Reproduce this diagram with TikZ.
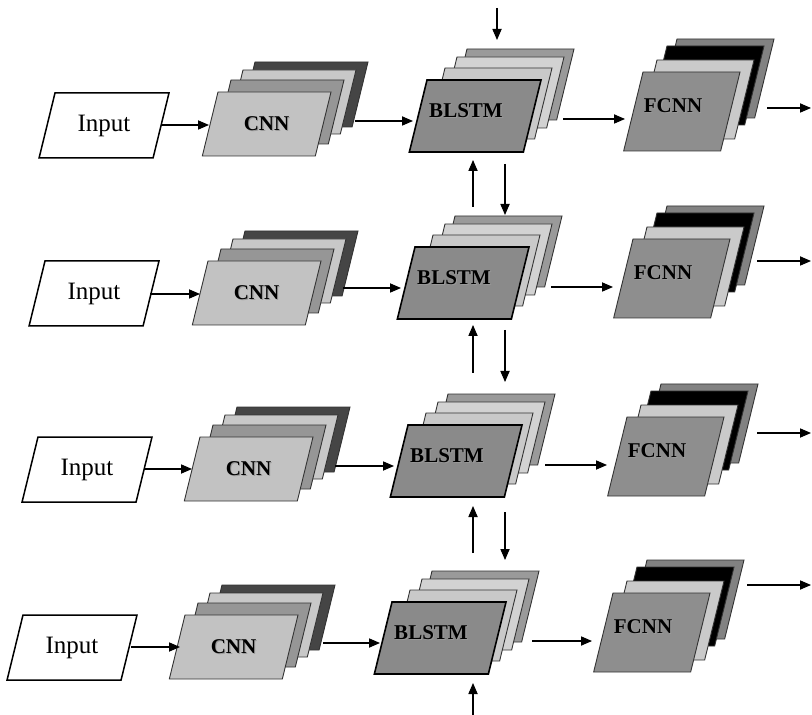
\documentclass[tikz,border=0pt]{standalone}
\usepackage{fontspec}
\setmainfont{Liberation Serif}
\usetikzlibrary{arrows.meta}

% layer colours
\definecolor{cnnA}{HTML}{C2C2C2}
\definecolor{cnnB}{HTML}{969696}
\definecolor{cnnC}{HTML}{C8C8C8}
\definecolor{cnnD}{HTML}{454545}
\definecolor{blA}{HTML}{8A8A8A}
\definecolor{blB}{HTML}{C9C9C9}
\definecolor{blC}{HTML}{D2D2D2}
\definecolor{blD}{HTML}{9A9A9A}
\definecolor{fcA}{HTML}{8E8E8E}
\definecolor{fcB}{HTML}{CACACA}
\definecolor{fcC}{HTML}{000000}
\definecolor{fcD}{HTML}{828282}

\tikzset{
  arr/.style={draw=black, line width=0.55pt, -{Triangle[length=5.5pt,width=4.6pt]}},
  lyr/.style={draw=black!80, line width=0.45pt},
  lyrfront/.style={draw=black, line width=0.8pt},
  inbox/.style={draw=black, fill=white, line width=0.75pt},
  intxt/.style={font=\fontsize{12.5}{15}\selectfont, inner sep=0pt},
  lbl/.style={font=\fontsize{10.5}{12}\selectfont\bfseries, inner sep=0pt},
}

% slanted sheet: top-left x, top-left y, width, height, style
\newcommand\pgram[5]{%
  \path[#5] ({#1},{#2}) -- ++(#3,0) -- ++({-0.245*(#4)},#4) -- ++({-(#3)},0) -- cycle;}

% bold label with a soft drop shadow
\newcommand\embossed[1]{\leavevmode\rlap{\kern0.55pt\raisebox{-0.55pt}{\color{black!40}#1}}#1}

% input sheet: name, x, y
\newcommand\inputbox[3]{%
  \pgram{#2}{#3}{114}{65}{inbox}
  \node[intxt] (#1) at ({#2+49},{#3+32.5}) {Input};}

% CNN stack: name, x, y of the front sheet
\newcommand\cnnstack[3]{%
  \pgram{#2+37}{#3-30}{113}{65}{lyr,fill=cnnD}
  \pgram{#2+25}{#3-22}{113}{64}{lyr,fill=cnnC}
  \pgram{#2+13}{#3-12}{113}{64}{lyr,fill=cnnB}
  \pgram{#2}{#3}{113}{64}{lyr,fill=cnnA}
  \node[lbl] (#1) at ({#2+48.5},{#3+32}) {\embossed{CNN}};}

% BLSTM stack
\newcommand\blstmstack[3]{%
  \pgram{#2+40}{#3-31}{107}{71}{lyr,fill=blD}
  \pgram{#2+30}{#3-23}{107}{71}{lyr,fill=blC}
  \pgram{#2+18}{#3-12}{107}{71}{lyr,fill=blB}
  \pgram{#2}{#3}{114}{72}{lyrfront,fill=blA}
  \node[lbl] (#1) at ({#2+39},{#3+31}) {\embossed{BLSTM}};}

% FCNN stack
\newcommand\fcnnstack[3]{%
  \pgram{#2+34}{#3-33}{97}{79}{lyr,fill=fcD}
  \pgram{#2+24}{#3-26}{97}{79}{lyr,fill=fcC}
  \pgram{#2+14}{#3-12}{97}{79}{lyr,fill=fcB}
  \pgram{#2}{#3}{97}{79}{lyr,fill=fcA}
  \node[lbl] (#1) at ({#2+30},{#3+34.5}) {\embossed{FCNN}};}

\begin{document}
\begin{tikzpicture}[x=0.5pt,y=-0.5pt]
\useasboundingbox (0,0) rectangle (812,715);

% ---- row 1
\inputbox{in1}{55}{93}
\cnnstack{cnn1}{218}{92}
\blstmstack{bl1}{427}{80}
\fcnnstack{fc1}{643}{72}
% ---- row 2
\inputbox{in2}{45}{261}
\cnnstack{cnn2}{208}{261}
\blstmstack{bl2}{415}{247}
\fcnnstack{fc2}{633}{239}
% ---- row 3
\inputbox{in3}{38}{437}
\cnnstack{cnn3}{200}{437}
\blstmstack{bl3}{408}{425}
\fcnnstack{fc3}{627}{417}
% ---- row 4
\inputbox{in4}{23}{615}
\cnnstack{cnn4}{185}{615}
\blstmstack{bl4}{392}{602}
\fcnnstack{fc4}{613}{593}

% ---- ports
\coordinate (in1-out) at (162,125);  \coordinate (cnn1-in) at (209,125);
\coordinate (cnn1-out) at (355,121); \coordinate (bl1-in) at (413,121);
\coordinate (bl1-out) at (563,119);  \coordinate (fc1-in) at (625,119);
\coordinate (fc1-out) at (767,108);  \coordinate (y1) at (811,108);

\coordinate (in2-out) at (150,294);  \coordinate (cnn2-in) at (200,294);
\coordinate (cnn2-out) at (343,288); \coordinate (bl2-in) at (401,288);
\coordinate (bl2-out) at (551,287);  \coordinate (fc2-in) at (613,287);
\coordinate (fc2-out) at (757,261);  \coordinate (y2) at (811,261);

\coordinate (in3-out) at (145,469);  \coordinate (cnn3-in) at (192,469);
\coordinate (cnn3-out) at (335,466); \coordinate (bl3-in) at (394,466);
\coordinate (bl3-out) at (545,465);  \coordinate (fc3-in) at (607,465);
\coordinate (fc3-out) at (757,433);  \coordinate (y3) at (811,433);

\coordinate (in4-out) at (131,647);  \coordinate (cnn4-in) at (180,647);
\coordinate (cnn4-out) at (323,643); \coordinate (bl4-in) at (380,643);
\coordinate (bl4-out) at (532,641);  \coordinate (fc4-in) at (592,641);
\coordinate (fc4-out) at (747,585);  \coordinate (y4) at (811,585);

% recurrent links between the BLSTM stacks
\coordinate (top-src) at (497,8);    \coordinate (bl1-top) at (497,40);
\coordinate (bl1-bot) at (473,160);  \coordinate (bl1-down) at (505,164);
\coordinate (bl2-up) at (473,207);   \coordinate (bl2-top) at (505,215);
\coordinate (bl2-bot) at (473,325);  \coordinate (bl2-down) at (505,330);
\coordinate (bl3-up) at (473,373);   \coordinate (bl3-top) at (505,382);
\coordinate (bl3-bot) at (473,506);  \coordinate (bl3-down) at (505,512);
\coordinate (bl4-up) at (473,553);   \coordinate (bl4-top) at (505,560);
\coordinate (bl4-bot) at (473,683);  \coordinate (bot-src) at (473,715);

% ---- forward connectors
\foreach \r in {1,2,3,4}{
  \draw[arr] (in\r-out) -- (cnn\r-in);
  \draw[arr] (cnn\r-out) -- (bl\r-in);
  \draw[arr] (bl\r-out) -- (fc\r-in);
  \draw[arr] (fc\r-out) -- (y\r);
}

% ---- vertical connectors
\draw[arr] (top-src) -- (bl1-top);
\draw[arr] (bl2-up) -- (bl1-bot);
\draw[arr] (bl1-down) -- (bl2-top);
\draw[arr] (bl3-up) -- (bl2-bot);
\draw[arr] (bl2-down) -- (bl3-top);
\draw[arr] (bl4-up) -- (bl3-bot);
\draw[arr] (bl3-down) -- (bl4-top);
\draw[arr] (bot-src) -- (bl4-bot);
\end{tikzpicture}
\end{document}
